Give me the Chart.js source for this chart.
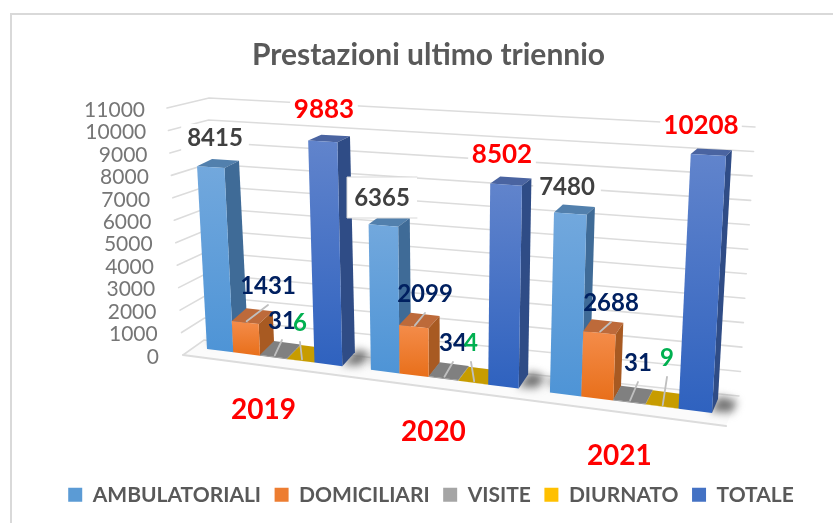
<!DOCTYPE html>
<html>
<head>
<meta charset="utf-8">
<title>Prestazioni ultimo triennio</title>
<script src="https://cdn.jsdelivr.net/npm/chart.js@4"></script>
<style>
    html, body { margin: 0; padding: 0; background: #fff; }
    canvas { display: block; }
</style>
</head>
<body>
<canvas id="chart" width="833" height="523"></canvas>
<script>
// data
const categories = ['2019', '2020', '2021'];
const ambulatoriali = [8415, 6365, 7480];
const domiciliari = [1431, 2099, 2688];
const visite = [31, 34, 31];
const diurnato = [6, 4, 9];
const totale = [9883, 8502, 10208];
const seriesNames = ['AMBULATORIALI', 'DOMICILIARI', 'VISITE', 'DIURNATO', 'TOTALE'];
const yMax = 11000;

// colours per series: legend, front top, front bottom, side, top face
const faces = [
    { legend: '#5b9bd5', from: '#72a8dd', to: '#4e94d6', side: '#3f6b97', top: '#5280ad' },
    { legend: '#ed7d31', from: '#f48c4a', to: '#e86f1a', side: '#a85a22', top: '#bd6a3a' },
    { legend: '#a5a5a5', from: '#8a8a8a', to: '#808080', side: '#6f6f6f', top: '#808080' },
    { legend: '#ffc000', from: '#d0a000', to: '#c79c00', side: '#a88400', top: '#c79c00' },
    { legend: '#4472c4', from: '#6184cc', to: '#2f62bf', side: '#2f4c86', top: '#4a64a1' }
];

// where the value labels sit, same order as the series
const labelAt = [
    [[215, 138], [382, 198], [567, 187]],
    [[268, 286], [425, 294], [611, 303]],
    [[282, 321], [453, 343], [638, 363]],
    [[300, 323], [471, 343], [667, 358]],
    [[324, 110], [502, 155], [701, 126]]
];
const labelColors = ['#404040', '#002060', '#002060', '#00b050', '#ff0000'];

// the perspective box of the Excel 3D chart
const front = { bl: [207, 349], br: [712, 413], tl: [194, 110], tr: [727, 136] };
const wallFrontLeft = { bottom: [183, 355], top: [167, 108] };
const wallBackLeft = { bottom: [204, 340], top: [209, 98] };
const wallBackRight = { bottom: [739, 396], top: [755, 127] };
const floorFrontRight = [726, 426];
const perspective = -0.12;
const catPercent = 0.832;

const lerp = (a, b, f) => a + (b - a) * f;
const lerp2 = (a, b, f) => [lerp(a[0], b[0], f), lerp(a[1], b[1], f)];

// t: fraction across the x scale, v: fraction up the y scale, d: 0 front of the bar, 1 back of the bar
function project(t, v, d) {
    const groupW = 1 / (1 + 2 / catPercent);
    const u = t * 3 * groupW / catPercent - (1 / catPercent - 1) * groupW / 2;
    const s = (1 + perspective) * u / (1 + perspective * u);
    const bottom = lerp2(front.bl, front.br, s);
    const top = lerp2(front.tl, front.tr, s);
    const p = lerp2(bottom, top, v);
    return [p[0] + d * (15 - 9 * s), p[1] - d * (14 - 9 * v)];
}

function poly(ctx, pts, fill) {
    ctx.beginPath();
    pts.forEach((p, i) => (i ? ctx.lineTo(p[0], p[1]) : ctx.moveTo(p[0], p[1])));
    ctx.closePath();
    ctx.fillStyle = fill;
    ctx.fill();
}

function line(ctx, pts, color, width) {
    ctx.beginPath();
    pts.forEach((p, i) => (i ? ctx.lineTo(p[0], p[1]) : ctx.moveTo(p[0], p[1])));
    ctx.strokeStyle = color;
    ctx.lineWidth = width;
    ctx.stroke();
}

const box3d = {
    id: 'box3d',
    afterLayout(chart) {
        // nudge the legend to where it is in the reference
        const legend = chart.legend;
        legend.left += 2.5;
        legend.right += 2.5;
        const shift = 493 - (legend.top + legend.bottom) / 2;
        legend.top += shift;
        legend.bottom += shift;
    },
    beforeDraw(chart) {
        const ctx = chart.ctx;
        ctx.save();
        ctx.strokeStyle = '#d9d9d9';
        ctx.lineWidth = 2;
        ctx.strokeRect(11, 14, 860, 560);
        ctx.restore();
    },
    // returning false skips the flat bars, they are redrawn here in 3D
    beforeDatasetsDraw(chart) {
        const ctx = chart.ctx;
        const area = chart.chartArea;
        const yScale = chart.scales.y;
        const toT = (x) => (x - area.left) / area.width;
        const toV = (y) => (yScale.bottom - y) / (yScale.bottom - yScale.top);

        ctx.save();
        ctx.lineCap = 'round';

        // floor
        poly(ctx, [wallFrontLeft.bottom, floorFrontRight, wallBackRight.bottom, wallBackLeft.bottom], '#fbfbfb');
        line(ctx, [wallFrontLeft.bottom, floorFrontRight], '#dcdcdc', 2);

        // gridlines over the side and back walls
        yScale.ticks.forEach((tick) => {
            const v = toV(yScale.getPixelForValue(tick.value));
            line(ctx, [
                lerp2(wallFrontLeft.bottom, wallFrontLeft.top, v),
                lerp2(wallBackLeft.bottom, wallBackLeft.top, v),
                lerp2(wallBackRight.bottom, wallBackRight.top, v)
            ], '#dcdcdc', 1.6);
        });

        // y tick labels follow the slanted front edge of the side wall
        ctx.font = '21px Lato';
        ctx.fillStyle = '#767676';
        ctx.textAlign = 'right';
        ctx.textBaseline = 'middle';
        yScale.ticks.forEach((tick) => {
            const v = toV(yScale.getPixelForValue(tick.value));
            ctx.fillText(String(tick.value), lerp(159, 145, v), lerp(357, 110, v));
        });

        // white boxes behind the labels that cut the gridlines
        ctx.font = 'bold 24px Lato';
        [0, 4].forEach((di) => {
            labelAt[di].forEach((pos, i) => {
                const w = ctx.measureText(String(chart.data.datasets[di].data[i])).width + 12;
                ctx.fillStyle = '#fff';
                ctx.fillRect(pos[0] - w / 2, pos[1] - 14, w, 28);
            });
        });

        // soft shadows next to the outer bars of each group
        const first = chart.getDatasetMeta(0).data;
        const last = chart.getDatasetMeta(4).data;
        ctx.filter = 'blur(4px)';
        categories.forEach((c, i) => {
            const t0 = toT(first[i].x - first[i].width / 2);
            const t1 = toT(last[i].x + last[i].width / 2);
            poly(ctx, [project(t1 - 0.004, 0, 0.1), project(t1 + 0.03, 0, 0.2), project(t1 + 0.032, 0, 1), project(t1, 0, 1.2)], '#707070');
            poly(ctx, [project(t0, 0, 0.4), project(t0 - 0.016, 0, 0.6), project(t0 - 0.008, 0, 1.1), project(t0 + 0.012, 0, 1.1)], '#808080');
        });
        ctx.filter = 'none';

        // bars, left to right, from the scale positions Chart.js worked out
        categories.forEach((c, i) => {
            chart.data.datasets.forEach((ds, di) => {
                const el = chart.getDatasetMeta(di).data[i];
                const t0 = toT(el.x - el.width / 2);
                const t1 = toT(el.x + el.width / 2);
                const v = toV(el.y);
                const f = faces[di];
                poly(ctx, [project(t0, v, 0), project(t0, v, 1), project(t1, v, 1), project(t1, v, 0)], f.top);
                poly(ctx, [project(t1, 0, 0), project(t1, v, 0), project(t1, v, 1), project(t1, 0, 1)], f.side);
                const a = project(t0, v, 0);
                const b = project(t1, 0, 0);
                const grad = ctx.createLinearGradient(0, a[1], 0, Math.max(b[1], a[1] + 1));
                grad.addColorStop(0, f.from);
                grad.addColorStop(1, f.to);
                poly(ctx, [project(t0, 0, 0), project(t0, v, 0), project(t1, v, 0), project(t1, 0, 0)], grad);
            });
        });

        // leader lines of the small series
        [1, 2, 3].forEach((di) => {
            categories.forEach((c, i) => {
                const el = chart.getDatasetMeta(di).data[i];
                const start = project(toT(el.x), toV(el.y), 0.1);
                const pos = labelAt[di][i];
                line(ctx, [start, [pos[0], pos[1] + 19]], '#bfbfbf', 1.8);
            });
        });

        // 6365 has its own outlined white box, on top of the bars
        ctx.fillStyle = '#fff';
        ctx.fillRect(347, 177, 70, 41);
        line(ctx, [[417, 177], [347, 177], [347, 218], [417, 218]], '#d9d9d9', 1);

        // value labels
        ctx.textAlign = 'center';
        chart.data.datasets.forEach((ds, di) => {
            ctx.font = 'bold ' + (di === 4 ? 26 : 24) + 'px Lato';
            ctx.fillStyle = labelColors[di];
            ds.data.forEach((value, i) => {
                ctx.fillText(String(value), labelAt[di][i][0], labelAt[di][i][1]);
            });
        });

        // category labels under each group, they step down with the floor
        ctx.font = 'bold 28px Lato';
        ctx.fillStyle = '#ff0000';
        const xScale = chart.scales.x;
        categories.forEach((c, i) => {
            const p = project(toT(xScale.getPixelForTick(i)), 0, 0);
            ctx.fillText(c, p[0] - 10, p[1] + 53);
        });

        ctx.restore();
        return false;
    }
};

const allSeries = [ambulatoriali, domiciliari, visite, diurnato, totale];

new Chart(document.getElementById('chart'), {
    type: 'bar',
    plugins: [box3d],
    data: {
        labels: categories,
        datasets: allSeries.map((values, i) => ({
            label: seriesNames[i],
            data: values,
            backgroundColor: faces[i].legend
        }))
    },
    options: {
        responsive: false,
        animation: false,
        layout: { padding: { left: 24 } },
        datasets: { bar: { barPercentage: 1, categoryPercentage: catPercent } },
        scales: {
            x: { display: false },
            y: { display: false, min: 0, max: yMax, ticks: { stepSize: 1000 } }
        },
        plugins: {
            tooltip: { enabled: false },
            title: {
                display: true,
                text: 'Prestazioni ultimo triennio',
                color: '#595959',
                font: { family: 'Lato', size: 30, weight: 'bold' },
                padding: { top: 37, bottom: 36 }
            },
            legend: {
                position: 'bottom',
                labels: {
                    boxWidth: 14,
                    boxHeight: 14,
                    padding: 13.5,
                    color: '#595959',
                    font: { family: 'Lato', size: 21, weight: 'bold' }
                }
            }
        }
    }
});
</script>
</body>
</html>
